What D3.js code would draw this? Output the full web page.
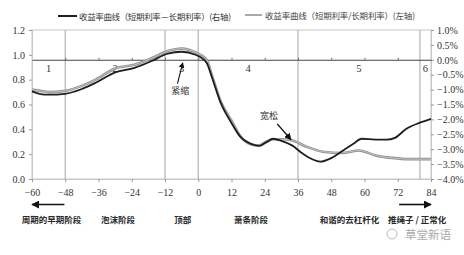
<!DOCTYPE html>
<html>
<head>
<meta charset="utf-8">
<script src="https://cdn.jsdelivr.net/npm/d3@7"></script>
<style>
  body { margin: 0; background: #fff; }
  svg { display: block; }
</style>
</head>
<body>
<svg id="chart"></svg>
<script>
// yield curve through the cycle, two series on twin axes

var width = 464;
var height = 255;

var margin = { top: 30, right: 33, bottom: 76, left: 32 };

// DATA

// black line: short rate minus long rate (%), right axis
var diffMonths = [-60, -57, -54, -48, -42, -37, -30, -23, -17, -11, -6, -1, 3, 5, 8, 12, 15, 19, 22, 24.5, 27, 30, 34, 37, 41, 44, 48, 52, 56, 59, 64, 68, 71, 75, 80, 84];
var diffValues = [-1.06, -1.15, -1.17, -1.14, -0.98, -0.77, -0.42, -0.27, -0.05, 0.21, 0.27, 0.17, -0.10, -0.60, -1.42, -2.12, -2.56, -2.82, -2.89, -2.77, -2.65, -2.72, -2.88, -3.10, -3.33, -3.42, -3.30, -3.06, -2.82, -2.65, -2.68, -2.68, -2.62, -2.32, -2.11, -1.98];

// gray line: short rate / long rate, left axis
var ratioMonths = [-60, -57, -54, -48, -42, -37, -30, -23, -17, -11, -6, -1, 3, 5, 8, 12, 15, 19, 22, 24.5, 27, 30, 34, 39, 45, 52, 58, 64, 70, 76, 84];
var ratioValues = [0.72, 0.71, 0.70, 0.71, 0.75, 0.80, 0.89, 0.92, 0.97, 1.03, 1.05, 1.02, 0.96, 0.83, 0.63, 0.47, 0.35, 0.28, 0.27, 0.30, 0.32, 0.32, 0.31, 0.26, 0.22, 0.21, 0.23, 0.19, 0.17, 0.16, 0.16];

// phase boundaries (months) and labels
var phaseBounds = [-60, -48, -12, 0, 36, 80, 84];
var phaseNums = ["1", "2", "3", "4", "5", "6"];
var phaseNames = ["周期的早期阶段", "泡沫阶段", "顶部", "萧条阶段", "和谐的去杠杆化", "推绳子 / 正常化"];
var phaseNameAt = [-53, -29, -5.6, 19, 54.6, 79];

var xTicks = d3.range(-60, 85, 12);
var leftTicks = [0, 0.2, 0.4, 0.6, 0.8, 1.0, 1.2];
var rightTicks = [1, 0.5, 0, -0.5, -1, -1.5, -2, -2.5, -3, -3.5, -4];

var legendLabels = ["收益率曲线（短期利率－长期利率）(右轴)", "收益率曲线（短期利率/长期利率）(左轴)"];

var diffData = diffMonths.map((m, i) => ({ m: m, v: diffValues[i] }));
var ratioData = ratioMonths.map((m, i) => ({ m: m, v: ratioValues[i] }));

var svg = d3.select("#chart")
    .attr("width", width)
    .attr("height", height);

// SCALES
var x = d3.scaleLinear()
    .domain([-60, 84])
    .range([margin.left, width - margin.right]);
var yL = d3.scaleLinear()
    .domain([0, 1.2])
    .range([height - margin.bottom, margin.top]);
var yR = d3.scaleLinear()
    .domain([-4, 1])
    .range([height - margin.bottom, margin.top]);

var serif = "'Liberation Serif', 'Times New Roman', 'DejaVu Serif', serif";
var cjk = "'Noto Sans CJK SC', sans-serif";

// FRAME
svg.append("rect")
    .attr("x", margin.left)
    .attr("y", margin.top)
    .attr("width", x(84) - margin.left)
    .attr("height", yL(0) - margin.top)
    .style("fill", "none")
    .style("stroke", "#c8c8c8")
    .style("stroke-width", 1);

// phase dividers
svg.append("g").selectAll("line")
    .data(phaseBounds.slice(1, -1))
    .enter()
    .append("line")
    .attr("x1", d => x(d)).attr("x2", d => x(d))
    .attr("y1", margin.top).attr("y2", yL(0))
    .style("stroke", "#b4b4b4")
    .style("stroke-width", 1.2);

// AXES
var leftAxis = svg.append("g")
    .attr("transform", "translate(" + margin.left + ",0)")
    .call(d3.axisLeft(yL).tickValues(leftTicks).tickFormat(d3.format(".1f")).tickSize(3).tickPadding(4));

var rightAxis = svg.append("g")
    .attr("transform", "translate(" + x(84) + ",0)")
    .call(d3.axisRight(yR).tickValues(rightTicks).tickFormat(d => d3.format(".1f")(d) + "%").tickSize(3).tickPadding(3));

var bottomAxis = svg.append("g")
    .attr("transform", "translate(0," + yL(0) + ")")
    .call(d3.axisBottom(x).tickValues(xTicks).tickFormat(d3.format("d")).tickSize(3).tickPadding(7));

[leftAxis, rightAxis, bottomAxis].forEach(function(a) {
    a.attr("font-family", serif);
    a.select(".domain").style("stroke", "#c8c8c8");
    a.selectAll(".tick line").style("stroke", "#999");
    a.selectAll("text")
        .style("font-family", serif)
        .style("font-size", "10px")
        .style("fill", "#333");
});

// zero line of the right axis, with month ticks
var zeroAxis = svg.append("g")
    .attr("transform", "translate(0," + yR(0) + ")")
    .call(d3.axisTop(x).tickValues(xTicks.slice(1, -1)).tickFormat("").tickSizeInner(2).tickSizeOuter(0));
zeroAxis.select(".domain").style("stroke", "#444").style("stroke-width", 1.1);
zeroAxis.selectAll(".tick line").style("stroke", "#666");

// phase numbers
svg.append("g").selectAll("text")
    .data(phaseNums)
    .enter()
    .append("text")
    .attr("x", (d, i) => x((phaseBounds[i] + phaseBounds[i + 1]) / 2))
    .attr("y", yR(0) + 12)
    .attr("text-anchor", "middle")
    .style("font-family", serif)
    .style("font-size", "10.5px")
    .style("fill", "#333")
    .text(d => d);

// LINES
var line = d3.line().curve(d3.curveMonotoneX).x(d => x(d.m));

svg.append("path")
    .datum(ratioData)
    .attr("d", line.y(d => yL(d.v)))
    .style("fill", "none")
    .style("stroke", "#8e8e8e")
    .style("stroke-width", 2.6);
svg.append("path")
    .datum(ratioData)
    .attr("d", line.y(d => yL(d.v)))
    .style("fill", "none")
    .style("stroke", "#c4c4c4")
    .style("stroke-width", 1);

svg.append("path")
    .datum(diffData)
    .attr("d", line.y(d => yR(d.v)))
    .style("fill", "none")
    .style("stroke", "#1e1e1e")
    .style("stroke-width", 1.8);

// ARROWS
var defs = svg.append("defs");
defs.append("marker")
    .attr("id", "head")
    .attr("viewBox", "0 0 10 10")
    .attr("refX", 9).attr("refY", 5)
    .attr("markerWidth", 5).attr("markerHeight", 5)
    .attr("orient", "auto")
    .append("path")
    .attr("d", "M0,0L10,5L0,10Z")
    .style("fill", "#111");

function arrow(x1, y1, x2, y2, w) {
    svg.append("line")
        .attr("x1", x1).attr("y1", y1).attr("x2", x2).attr("y2", y2)
        .style("stroke", "#111")
        .style("stroke-width", w)
        .attr("marker-end", "url(#head)");
}

// 紧缩 annotation
arrow(x(-7.5), yR(-0.8), x(-5.6), yR(-0.1), 1.1);
svg.append("text")
    .attr("x", x(-6.5)).attr("y", yR(-1.15))
    .attr("text-anchor", "middle")
    .style("font-family", cjk).style("font-size", "9px").style("fill", "#333")
    .text("紧缩");

// 宽松 annotation
arrow(x(28.5), yR(-2.15), x(33.5), yR(-2.68), 1.4);
svg.append("text")
    .attr("x", x(25.5)).attr("y", yR(-1.98))
    .attr("text-anchor", "middle")
    .style("font-family", cjk).style("font-size", "9px").style("fill", "#333")
    .text("宽松");

// time direction arrows below axis
arrow(x(-48.3), 204.5, x(-60), 204.5, 1.6);
arrow(x(72.5), 204.5, x(84), 204.5, 1.6);

// phase names
svg.append("g").selectAll("text")
    .data(phaseNames)
    .enter()
    .append("text")
    .attr("x", (d, i) => x(phaseNameAt[i]))
    .attr("y", 223)
    .attr("text-anchor", "middle")
    .style("font-family", cjk)
    .style("font-size", "8.5px")
    .style("font-weight", "bold")
    .style("fill", "#2a2a2a")
    .text(d => d);

// LEGEND
var legend = svg.append("g");
legend.append("line")
    .attr("x1", 58).attr("x2", 77).attr("y1", 16).attr("y2", 16)
    .style("stroke", "#1e1e1e").style("stroke-width", 2);
legend.append("line")
    .attr("x1", 245).attr("x2", 262).attr("y1", 15).attr("y2", 15)
    .style("stroke", "#8e8e8e").style("stroke-width", 1.5);
legend.append("text")
    .attr("x", 79).attr("y", 19.5)
    .attr("textLength", 152)
    .style("font-family", cjk).style("font-size", "8.5px").style("fill", "#333")
    .text(legendLabels[0]);
legend.append("text")
    .attr("x", 265).attr("y", 18.5)
    .attr("textLength", 150)
    .style("font-family", cjk).style("font-size", "8.5px").style("fill", "#444")
    .text(legendLabels[1]);

// watermark
svg.append("circle")
    .attr("cx", 392).attr("cy", 234).attr("r", 5)
    .style("fill", "none").style("stroke", "#bbb").style("stroke-width", 1);
svg.append("text")
    .attr("x", 405).attr("y", 238.5)
    .style("font-family", cjk).style("font-size", "11.5px").style("fill", "#aaa")
    .text("草堂新语");
</script>
</body>
</html>
